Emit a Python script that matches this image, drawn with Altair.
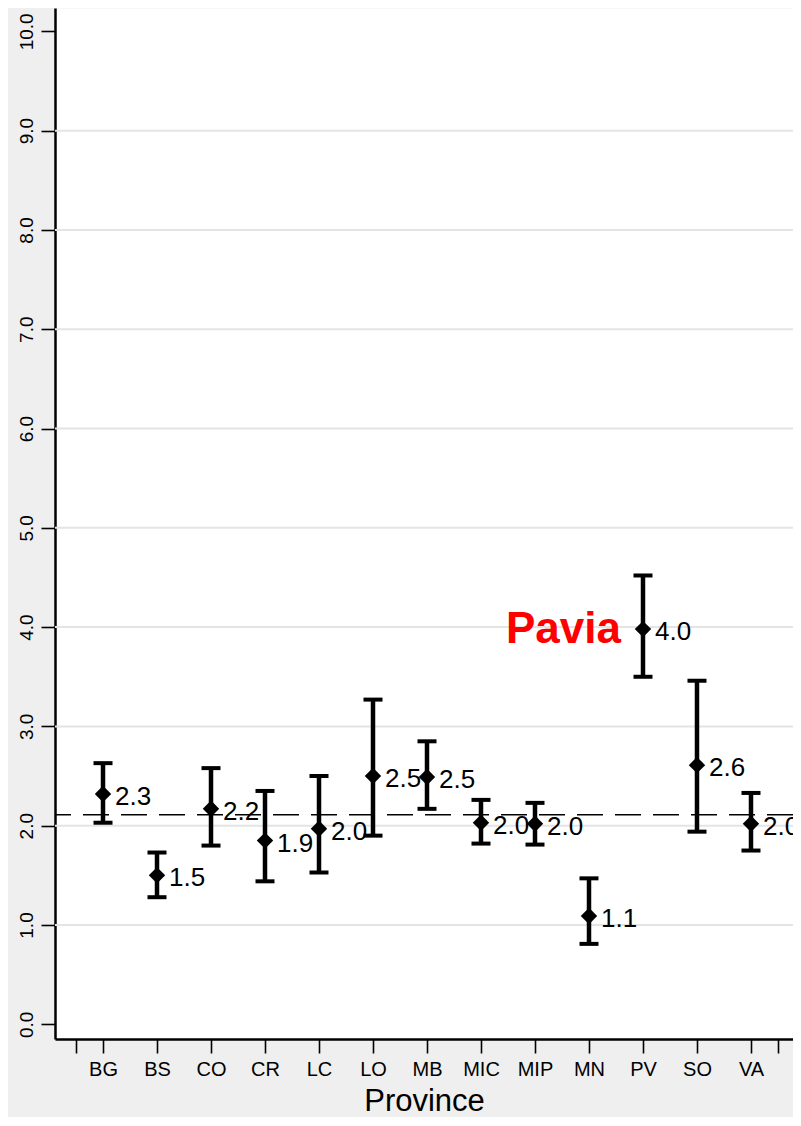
import json
import altair as alt
import pandas as pd

# ---- data ----
provinces = ["BG", "BS", "CO", "CR", "LC", "LO", "MB", "MIC", "MIP", "MN", "PV", "SO", "VA"]
means = [2.32, 1.50, 2.17, 1.85, 1.97, 2.50, 2.49, 2.03, 2.02, 1.09, 3.98, 2.61, 2.02]
lower = [2.03, 1.28, 1.80, 1.44, 1.53, 1.90, 2.17, 1.82, 1.81, 0.81, 3.50, 1.94, 1.75]
upper = [2.63, 1.73, 2.58, 2.35, 2.50, 3.27, 2.85, 2.26, 2.23, 1.47, 4.52, 3.46, 2.33]
value_labels = ["2.3", "1.5", "2.2", "1.9", "2.0", "2.5", "2.5", "2.0", "2.0", "1.1", "4.0", "2.6", "2.0"]
reference_value = 2.11
y_ticks = [0, 1, 2, 3, 4, 5, 6, 7, 8, 9, 10]
y_grid = [1, 2, 3, 4, 5, 6, 7, 8, 9]
x_ticks = [0.5] + list(range(1, len(provinces) + 1)) + [len(provinces) + 0.5]
highlight_province = "PV"
highlight_label = "Pavia"

FONT = "Liberation Sans"

df = pd.DataFrame({
    "idx": list(range(1, len(provinces) + 1)),
    "province": provinces,
    "mean": means,
    "lower": lower,
    "upper": upper,
    "label": value_labels,
})
hl = df[df["province"] == highlight_province].assign(note=highlight_label)

xscale = alt.Scale(domain=[0.111, 13.778], nice=False, zero=False)
yscale = alt.Scale(domain=[-0.148, 10.235], nice=False, zero=False)

label_arr = json.dumps([""] + provinces)
xaxis = alt.Axis(
    values=x_ticks,
    labelExpr=f"{label_arr}[datum.value] || ''",
    title="Province",
    grid=False,
    domainColor="black", domainWidth=2.5,
    tickColor="black", tickWidth=1.6, tickSize=14,
    labelFont=FONT, labelFontSize=20, labelColor="black", labelPadding=6,
    labelOverlap=False, labelFlush=False,
    titleFont=FONT, titleFontSize=31, titleFontWeight="normal", titleColor="black",
    titleBaseline="alphabetic", titleY=71,
)
yaxis = alt.Axis(
    values=y_ticks,
    format=".1f",
    title=None,
    grid=False,
    domainColor="black", domainWidth=2.5,
    tickColor="black", tickWidth=1.6, tickSize=14,
    labelFont=FONT, labelFontSize=19, labelColor="black",
    labelAngle=270, labelAlign="center", labelBaseline="bottom", labelPadding=5,
    labelOverlap=False, labelFlush=False,
)

X = alt.X("idx:Q", scale=xscale, axis=xaxis)

grid = alt.Chart(pd.DataFrame({"g": y_grid})).mark_rule(
    color="#e4e4e4", strokeWidth=2
).encode(y=alt.Y("g:Q", scale=yscale, axis=yaxis))

ref = alt.Chart(pd.DataFrame({"ref": [reference_value]})).mark_rule(
    color="black", strokeWidth=1.6, strokeDash=[26, 12]
).encode(y=alt.Y("ref:Q", scale=yscale, axis=yaxis))

bars = alt.Chart(df).mark_rule(color="black", strokeWidth=4.5).encode(
    x=X,
    y=alt.Y("lower:Q", scale=yscale, axis=yaxis),
    y2="upper:Q",
)

cap_hi = alt.Chart(df).mark_tick(
    orient="horizontal", color="black", size=19, thickness=4, opacity=1
).encode(x=X, y=alt.Y("upper:Q", scale=yscale, axis=yaxis))

cap_lo = alt.Chart(df).mark_tick(
    orient="horizontal", color="black", size=19, thickness=4, opacity=1
).encode(x=X, y=alt.Y("lower:Q", scale=yscale, axis=yaxis))

points = alt.Chart(df).mark_point(
    shape="diamond", filled=True, color="black", size=270, opacity=1
).encode(x=X, y=alt.Y("mean:Q", scale=yscale, axis=yaxis))

texts = alt.Chart(df).mark_text(
    align="left", baseline="alphabetic", dx=12, dy=11,
    font=FONT, fontSize=26, color="black"
).encode(x=X, y=alt.Y("mean:Q", scale=yscale, axis=yaxis), text="label:N")

note = alt.Chart(hl).mark_text(
    align="right", baseline="alphabetic", dx=-22, dy=14,
    font=FONT, fontSize=44, fontWeight="bold", color="#ff0000"
).encode(x=X, y=alt.Y("mean:Q", scale=yscale, axis=yaxis), text="note:N")

chart = alt.layer(grid, ref, bars, cap_hi, cap_lo, points, texts, note).properties(
    width=738,
    height=1031,
    autosize=alt.AutoSizeParams(type="none"),
    padding={"left": 47, "top": 0, "right": 0, "bottom": 78},
    background="#efefef",
).configure(
    font=FONT,
    view=alt.ViewConfig(fill="white", stroke="transparent"),
)

chart.save("out.html", embed_options={"renderer": "svg", "actions": False})
